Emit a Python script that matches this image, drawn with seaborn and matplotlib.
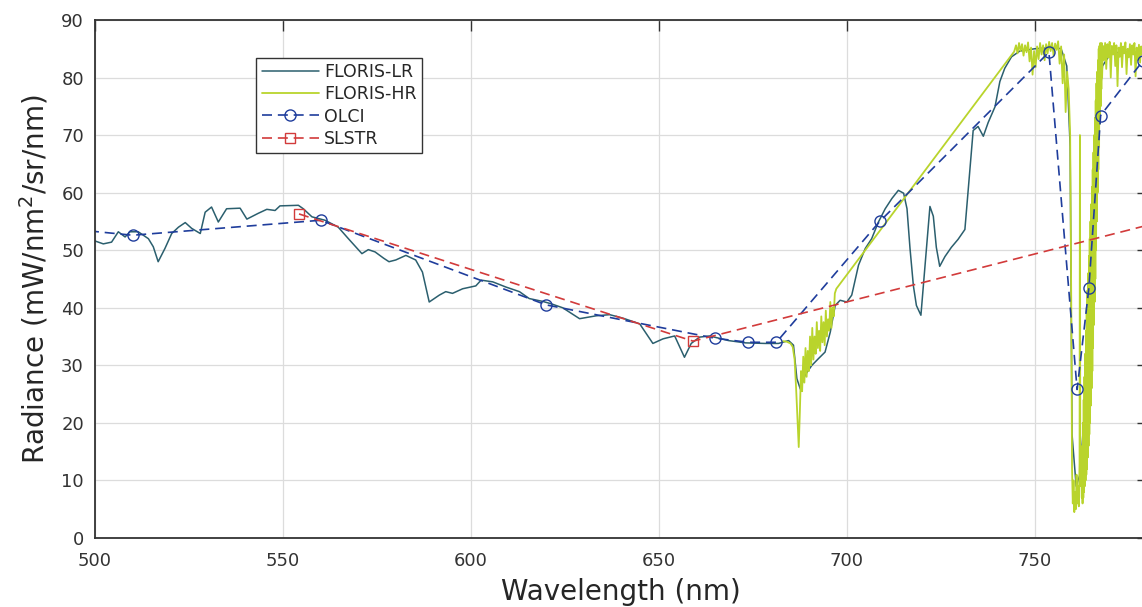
import pandas as pd
import matplotlib.pyplot as plt
import seaborn as sns

sns.set_theme(style="whitegrid")
plt.rcParams["font.family"] = ["DejaVu Sans"]

# FLORIS low resolution spectrum
lr_wl = [500.0, 502.2, 504.4, 506.2, 508.0, 509.3, 511.5, 514.2, 515.5, 516.8, 518.6, 520.4,
         522.2, 524.0, 525.7, 528.0, 529.3, 531.0, 532.8, 535.0, 538.6, 540.4, 543.4, 545.7,
         547.9, 549.2, 554.1, 555.4, 557.7, 561.2, 564.7, 567.4, 571.0, 572.7, 574.5, 576.8,
         578.2, 580.0, 582.7, 585.3, 587.1, 588.9, 591.6, 593.3, 595.1, 597.8, 601.3, 602.7,
         605.8, 609.3, 612.9, 615.5, 619.1, 621.3, 624.4, 628.9, 633.3, 636.9, 640.4, 644.9,
         648.4, 651.1, 654.2, 656.8, 658.6, 660.8, 663.5, 668.5, 673.0, 678.3, 681.8, 684.5,
         685.8, 686.7, 687.6, 688.9, 690.7, 692.5, 694.2, 695.6, 696.9, 698.2, 700.0, 701.3,
         703.1, 704.9, 706.6, 708.4, 710.2, 712.0, 713.7, 715.1, 716.0, 716.8, 717.7, 718.5,
         719.7, 720.7, 722.1, 723.0, 723.8, 724.7, 726.1, 727.8, 729.6, 731.4, 732.3, 733.6,
         734.9, 736.3, 737.6, 739.4, 740.7, 742.0, 743.8, 746.0, 750.0, 755.0, 757.0, 758.5,
         759.4, 759.9, 761.0, 762.0, 763.0, 764.0, 765.0, 766.0, 767.0, 768.0, 770.0, 773.0,
         776.0, 779.0]
lr_rad = [51.6, 51.1, 51.4, 53.2, 52.3, 53.2, 53.2, 52.0, 50.6, 48.0, 50.3, 52.9,
          54.0, 54.8, 53.8, 52.9, 56.6, 57.5, 54.9, 57.2, 57.3, 55.4, 56.4, 57.1,
          56.9, 57.7, 57.8, 57.2, 55.8, 55.2, 54.0, 52.0, 49.4, 50.1, 49.7, 48.6,
          48.0, 48.3, 49.1, 48.3, 46.2, 41.0, 42.2, 42.8, 42.5, 43.3, 43.8, 44.8,
          44.5, 43.6, 42.8, 41.6, 41.1, 40.7, 40.0, 38.1, 38.6, 38.8, 38.2, 37.2,
          33.8, 34.6, 35.1, 31.4, 33.8, 34.9, 35.1, 34.3, 33.9, 33.8, 33.8, 34.3,
          33.5, 27.7, 25.9, 28.3, 30.0, 31.2, 32.3, 35.8, 40.4, 41.3, 41.0, 42.2,
          47.4, 50.3, 52.0, 54.9, 57.2, 59.0, 60.4, 59.9, 57.2, 50.3, 43.8, 40.4,
          38.7, 46.5, 57.6, 55.9, 50.5, 47.2, 48.9, 50.5, 51.9, 53.6, 60.7, 70.8,
          71.5, 69.8, 72.2, 74.9, 79.3, 81.6, 83.6, 84.6, 85.0, 85.2, 85.0, 82.0,
          68.0, 18.0, 9.0, 11.0, 20.0, 32.0, 45.0, 60.0, 74.0, 82.0, 84.0, 84.5,
          84.3, 84.2]

# FLORIS high resolution spectrum (O2-B and O2-A windows)
hr_wl = [683.0, 684.0, 685.0, 685.6, 686.1, 686.5, 686.9, 687.2, 687.5, 687.8, 688.1, 688.4,
         688.7, 689.0, 689.3, 689.6, 689.9, 690.2, 690.5, 690.8, 691.1, 691.4, 691.7, 692.0,
         692.3, 692.6, 692.9, 693.2, 693.5, 693.8, 694.1, 694.4, 694.7, 695.0, 695.3, 695.6,
         695.9, 696.2, 696.5, 696.8, 697.2,
         744.5, 745.0, 745.4, 745.8, 746.2, 746.6, 747.0, 747.4, 747.8, 748.2, 748.6, 749.0,
         749.4, 749.8, 750.2, 750.6, 751.0, 751.4, 751.8, 752.2, 752.6, 753.0, 753.4, 753.8,
         754.2, 754.6, 755.0, 755.4, 755.8, 756.2, 756.6, 757.0, 757.4, 757.8, 758.2, 758.6,
         759.0, 759.4, 759.7, 759.9, 760.1, 760.3, 760.5, 760.7, 760.9, 761.1, 761.3, 761.5,
         761.7, 761.9, 762.0, 762.1, 762.3, 762.5, 762.6, 762.7, 762.8, 762.9, 763.0, 763.1,
         763.2, 763.3, 763.4, 763.5, 763.6, 763.7, 763.8, 763.9, 764.0, 764.1, 764.2, 764.3,
         764.4, 764.5, 764.6, 764.7, 764.8, 764.9, 765.0, 765.1, 765.2, 765.3, 765.4, 765.5,
         765.6, 765.7, 765.8, 765.9, 766.0, 766.1, 766.2, 766.3, 766.4, 766.5, 766.6, 766.7,
         766.8, 766.9, 767.0, 767.1, 767.2, 767.3, 767.4, 767.5, 767.6, 767.7, 767.8, 767.9,
         768.1, 768.4, 768.7, 769.0, 769.3, 769.6, 769.9, 770.2, 770.5, 770.8, 771.1, 771.4,
         771.7, 772.0, 772.3, 772.6, 772.9, 773.2, 773.5, 773.8, 774.1, 774.4, 774.7, 775.0,
         775.3, 775.6, 775.9, 776.2, 776.5, 776.8, 777.1, 777.4, 777.7, 778.0, 778.3, 778.6,
         779.0]
hr_rad = [34.2, 34.1, 33.8, 33.2, 31.0, 26.0, 20.0, 15.8, 22.0, 29.0, 25.5, 31.5,
          27.0, 33.0, 28.0, 32.5, 29.0, 35.0, 30.0, 36.5, 31.0, 35.0, 32.0, 37.5,
          33.0, 36.0, 32.5, 38.5, 34.0, 37.5, 33.5, 39.5, 35.0, 38.0, 36.0, 41.0,
          36.5, 40.0, 38.5, 42.5, 43.3,
          84.5, 85.6, 84.2, 86.0, 84.6, 85.8, 83.8, 85.6, 84.4, 86.1, 82.8, 85.2,
          80.5, 84.6, 81.8, 85.4, 83.2, 86.0, 84.0, 85.6, 83.0, 85.8, 84.2, 86.2,
          84.6, 86.0, 83.8, 85.9, 84.8, 86.3, 82.4, 85.4, 79.0, 84.0, 74.0, 81.0,
          78.0, 70.0, 40.0, 12.0, 6.0, 10.0, 4.5, 8.0, 5.0, 11.0, 6.0, 9.0,
          5.5, 13.0, 70.0, 9.0, 14.0, 7.0, 16.0, 6.0, 20.0, 7.0, 24.0, 8.0,
          28.0, 9.0, 32.0, 10.0, 36.0, 11.0, 40.0, 12.0, 43.0, 14.0, 46.0, 16.0,
          49.0, 18.0, 52.0, 20.0, 55.0, 23.0, 58.0, 26.0, 61.0, 29.0, 64.0, 33.0,
          67.0, 37.0, 70.0, 41.0, 73.0, 45.0, 76.0, 50.0, 79.0, 55.0, 81.0, 60.0,
          83.0, 64.0, 85.0, 68.0, 85.5, 72.0, 86.0, 75.0, 85.5, 78.0, 86.0, 80.0,
          85.5, 83.0, 86.0, 81.5, 85.8, 83.5, 86.2, 80.0, 85.5, 84.0, 86.0, 82.0,
          85.6, 78.5, 85.2, 83.6, 86.0, 81.8, 85.4, 84.2, 86.1, 80.6, 85.0, 83.5,
          85.8, 82.2, 85.6, 84.0, 86.0, 80.2, 85.2, 83.0, 85.7, 82.6, 85.4, 84.0,
          85.5]

# OLCI bands
olci_wl = [490.0, 510.0, 560.0, 620.0, 665.0, 673.75, 681.25, 708.75, 753.75, 761.25,
           764.375, 767.5, 778.75]
olci_rad = [53.9, 52.6, 55.2, 40.5, 34.7, 34.0, 34.0, 55.0, 84.4, 25.8, 43.4, 73.4, 82.9]

# SLSTR bands
slstr_wl = [554.27, 659.08, 868.0]
slstr_rad = [56.3, 34.2, 69.0]

lr = pd.DataFrame({"wl": lr_wl, "rad": lr_rad})
hr = pd.DataFrame({"wl": hr_wl, "rad": hr_rad})
olci = pd.DataFrame({"wl": olci_wl, "rad": olci_rad})
slstr = pd.DataFrame({"wl": slstr_wl, "rad": slstr_rad})

fig = plt.figure(figsize=(11.42, 6.07), dpi=100)
ax = fig.add_axes([0.0832, 0.1137, 0.9217, 0.8534])

sns.lineplot(data=lr, x="wl", y="rad", sort=False, estimator=None, ax=ax,
             color="#2b5f6e", linewidth=1.1, label="FLORIS-LR")
sns.lineplot(data=hr, x="wl", y="rad", sort=False, estimator=None, ax=ax,
             color="#b9d42c", linewidth=1.3, label="FLORIS-HR")
sns.lineplot(data=olci, x="wl", y="rad", sort=False, estimator=None, ax=ax,
             color="#1f3d9c", linewidth=1.2, linestyle=(0, (6, 3.5)),
             marker="o", markersize=8, markerfacecolor="none",
             markeredgecolor="#1f3d9c", markeredgewidth=1.0, label="OLCI")
sns.lineplot(data=slstr, x="wl", y="rad", sort=False, estimator=None, ax=ax,
             color="#d23b3b", linewidth=1.2, linestyle=(0, (6, 3.5)),
             marker="s", markersize=7, markerfacecolor="none",
             markeredgecolor="#d23b3b", markeredgewidth=1.0, label="SLSTR")

ax.set_xlim(500, 780)
ax.set_ylim(0, 90)
ax.set_xticks([500, 550, 600, 650, 700, 750])
ax.set_yticks(range(0, 91, 10))
ax.grid(True, color="#dcdcdc", linewidth=0.9)
for side in ["left", "bottom", "top", "right"]:
    ax.spines[side].set_visible(True)
    ax.spines[side].set_color("#333333")
    ax.spines[side].set_linewidth(1.3)
ax.tick_params(direction="in", length=8, width=1.0, color="#333333",
               top=True, right=True, labelsize=13, labelcolor="#333333")
ax.tick_params(axis="x", pad=10)
ax.tick_params(axis="y", pad=8)

ax.set_xlabel("Wavelength (nm)", fontsize=20, color="#262626", labelpad=6)
ax.set_ylabel("Radiance (mW/nm$^2$/sr/nm)", fontsize=20, color="#262626", labelpad=8)

leg = ax.legend(loc="upper left", bbox_to_anchor=(0.145, 0.944), fontsize=12.5,
                frameon=True, fancybox=False, framealpha=1, edgecolor="#333333",
                handlelength=3.3, borderpad=0.3, labelspacing=0.25, handletextpad=0.3)
leg.get_frame().set_linewidth(1.0)

plt.savefig("out.png", dpi=100)
